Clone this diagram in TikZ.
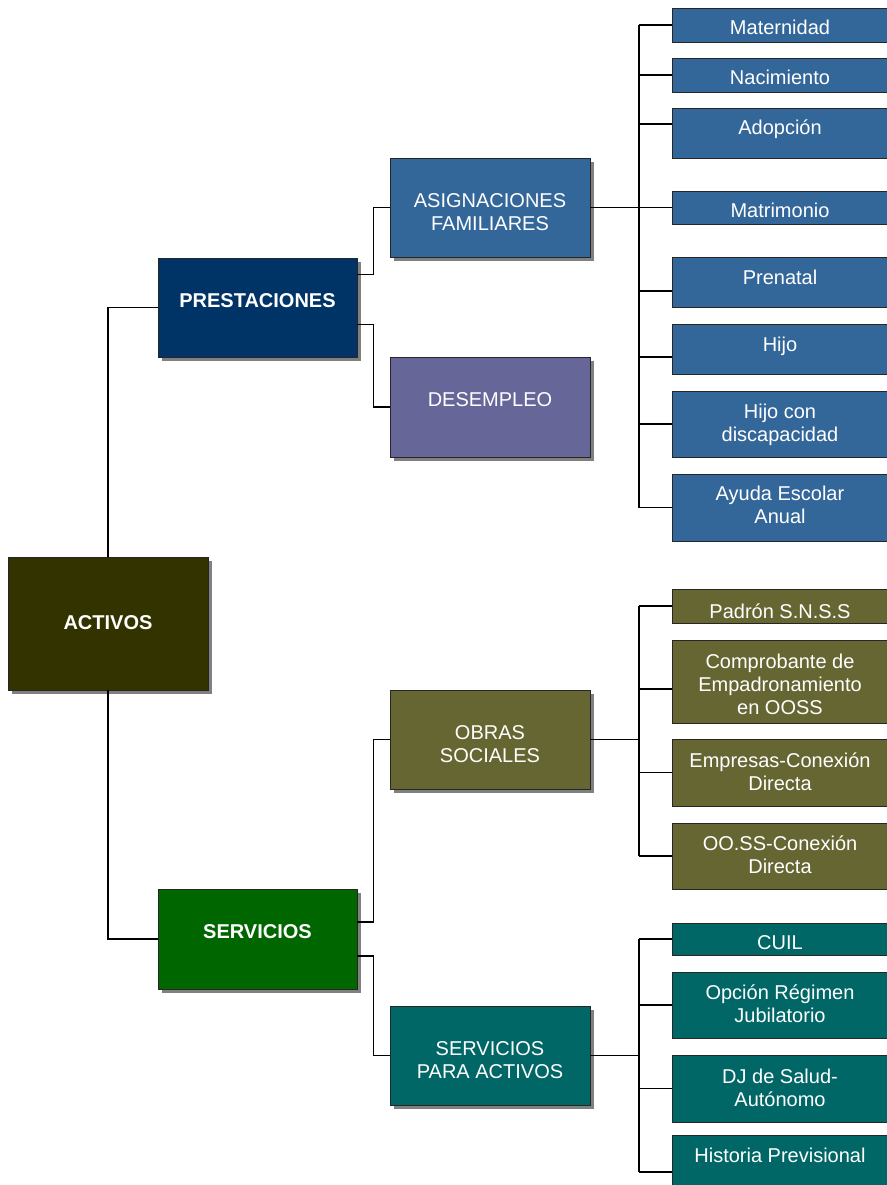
\documentclass[tikz,border=0pt]{standalone}
\usepackage{fontspec}
\setmainfont{Liberation Sans}
\usetikzlibrary{shadows,calc}
\definecolor{cAct}{HTML}{333300}
\definecolor{cPre}{HTML}{003366}
\definecolor{cSer}{HTML}{006600}
\definecolor{cAsi}{HTML}{336699}
\definecolor{cDes}{HTML}{666699}
\definecolor{cObr}{HTML}{666633}
\definecolor{cSpa}{HTML}{006666}
\definecolor{cShadow}{HTML}{808080}
\begin{document}
\begin{tikzpicture}[x=1pt,y=-1pt,
  box/.style={draw=black!85,line width=0.9pt,inner sep=0pt,outer sep=0pt,rectangle},
  shadowbox/.style={box,drop shadow={shadow xshift=4pt,shadow yshift=-4pt,fill=cShadow,opacity=1}},
  leaf/.style={box,minimum width=216pt},
  lbl/.style={text=white,align=center,inner sep=0pt,font=\fontsize{20}{23}\selectfont},
  blbl/.style={text=white,align=center,inner sep=0pt,font=\fontsize{20}{23}\selectfont\bfseries},
  conn/.style={draw=black,line width=1.1pt}]
\useasboundingbox[fill=white] (0,0) rectangle (886,1185);

% main boxes
\node[shadowbox,fill=cAct,minimum width=200pt,minimum height=133pt] (act) at (108,623.5) {};
\node[shadowbox,fill=cPre,minimum width=199pt,minimum height=99pt] (pre) at (257.5,307.5) {};
\node[shadowbox,fill=cSer,minimum width=199pt,minimum height=100pt] (ser) at (257.5,939) {};
\node[shadowbox,fill=cAsi,minimum width=200pt,minimum height=99pt] (asi) at (490,207.5) {};
\node[shadowbox,fill=cDes,minimum width=200pt,minimum height=100pt] (des) at (490,407) {};
\node[shadowbox,fill=cObr,minimum width=200pt,minimum height=99pt] (obr) at (490,739.5) {};
\node[shadowbox,fill=cSpa,minimum width=200pt,minimum height=99pt] (spa) at (490,1055.5) {};

% leaves
\node[leaf,fill=cAsi,minimum height=34pt] (mat) at (780,25) {};
\node[leaf,fill=cAsi,minimum height=34pt] (nac) at (780,75) {};
\node[leaf,fill=cAsi,minimum height=50pt] (ado) at (780,133) {};
\node[leaf,fill=cAsi,minimum height=33pt] (mtr) at (780,207.5) {};
\node[leaf,fill=cAsi,minimum height=50pt] (pren) at (780,282) {};
\node[leaf,fill=cAsi,minimum height=50pt] (hijo) at (780,349) {};
\node[leaf,fill=cAsi,minimum height=66pt] (hcd) at (780,424) {};
\node[leaf,fill=cAsi,minimum height=67pt] (aya) at (780,507.5) {};
\node[leaf,fill=cObr,minimum height=34pt] (pad) at (780,606) {};
\node[leaf,fill=cObr,minimum height=83pt] (com) at (780,681.5) {};
\node[leaf,fill=cObr,minimum height=67pt] (emp) at (780,772.5) {};
\node[leaf,fill=cObr,minimum height=66pt] (oos) at (780,856) {};
\node[leaf,fill=cSpa,minimum height=32pt] (cuil) at (780,939) {};
\node[leaf,fill=cSpa,minimum height=66pt] (opc) at (780,1005) {};
\node[leaf,fill=cSpa,minimum height=67pt] (dj) at (780,1088.5) {};
\node[leaf,fill=cSpa,minimum height=74pt] (his) at (780,1172) {};

% texts
\node[blbl] (actT) at (108,623) {ACTIVOS};
\node[blbl] (preT) at (257.5,301) {PRESTACIONES};
\node[blbl] (serT) at (257.5,932) {SERVICIOS};
\node[lbl] (asiT) at (490,212.5) {ASIGNACIONES\\FAMILIARES};
\node[lbl] (desT) at (490,400) {DESEMPLEO};
\node[lbl] (obrT) at (490,744.5) {OBRAS\\SOCIALES};
\node[lbl] (spaT) at (490,1060.5) {SERVICIOS\\PARA ACTIVOS};
\node[lbl] (matT) at (780,27.5) {Maternidad};
\node[lbl] (nacT) at (780,77.5) {Nacimiento};
\node[lbl] (adoT) at (780,129) {Adopción};
\node[lbl] (mtrT) at (780,210.5) {Matrimonio};
\node[lbl] (prenT) at (780,277) {Prenatal};
\node[lbl] (hijoT) at (780,346) {Hijo};
\node[lbl] (hcdT) at (780,424.5) {Hijo con\\discapacidad};
\node[lbl] (ayaT) at (780,505) {Ayuda Escolar\\Anual};
\node[lbl] (padT) at (780,611.5) {Padrón S.N.S.S};
\node[lbl] (comT) at (780,684) {Comprobante de\\Empadronamiento\\en OOSS};
\node[lbl] (empT) at (780,771.5) {Empresas-Conexión\\Directa};
\node[lbl] (oosT) at (780,855) {OO.SS-Conexión\\Directa};
\node[lbl] (cuilT) at (780,942.5) {CUIL};
\node[lbl] (opcT) at (780,1004) {Opción Régimen\\Jubilatorio};
\node[lbl] (djT) at (780,1087.5) {DJ de Salud-\\Autónomo};
\node[lbl] (hisT) at (780,1155) {Historia Previsional};

% connectors: first levels
\draw[conn] (act.north) |- (pre.west);
\draw[conn] (act.south) |- (ser.west);
\draw[conn] ($(pre.north east)+(0,16.5)$) -- ++(16.5,0) |- (asi.west);
\draw[conn] ($(pre.north east)+(0,66.5)$) -- ++(16.5,0) |- (des.west);
\draw[conn] ($(ser.north east)+(0,33)$) -- ++(16.5,0) |- (obr.west);
\draw[conn] ($(ser.north east)+(0,67)$) -- ++(16.5,0) |- (spa.west);

% buses
\coordinate (busA) at (639,207.5);
\coordinate (busB) at (639,739.5);
\coordinate (busC) at (639,1055.5);
\draw[conn] (asi.east) -- (busA);
\draw[conn] (obr.east) -- (busB);
\draw[conn] (spa.east) -- (busC);
\draw[conn] (mat.west -| busA) -- (aya.west -| busA);
\draw[conn] (pad.west -| busB) -- (oos.west -| busB);
\draw[conn] (cuil.west -| busC) -- (his.west -| busC);

% leaf connectors
\draw[conn] (mat.west) -- ++(-33,0);
\draw[conn] (nac.west) -- ++(-33,0);
\draw[conn] ([yshift=9pt]ado.west) -- ++(-33,0);
\draw[conn] (mtr.west) -- ++(-33,0);
\draw[conn] ([yshift=-9pt]pren.west) -- ++(-33,0);
\draw[conn] ([yshift=-8pt]hijo.west) -- ++(-33,0);
\draw[conn] (hcd.west) -- ++(-33,0);
\draw[conn] (aya.west) -- ++(-33,0);
\draw[conn] (pad.west) -- ++(-33,0);
\draw[conn] ([yshift=-7.5pt]com.west) -- ++(-33,0);
\draw[conn] (emp.west) -- ++(-33,0);
\draw[conn] (oos.west) -- ++(-33,0);
\draw[conn] (cuil.west) -- ++(-33,0);
\draw[conn] (opc.west) -- ++(-33,0);
\draw[conn] (dj.west) -- ++(-33,0);
\draw[conn] (his.west) -- ++(-33,0);
\end{tikzpicture}
\end{document}
